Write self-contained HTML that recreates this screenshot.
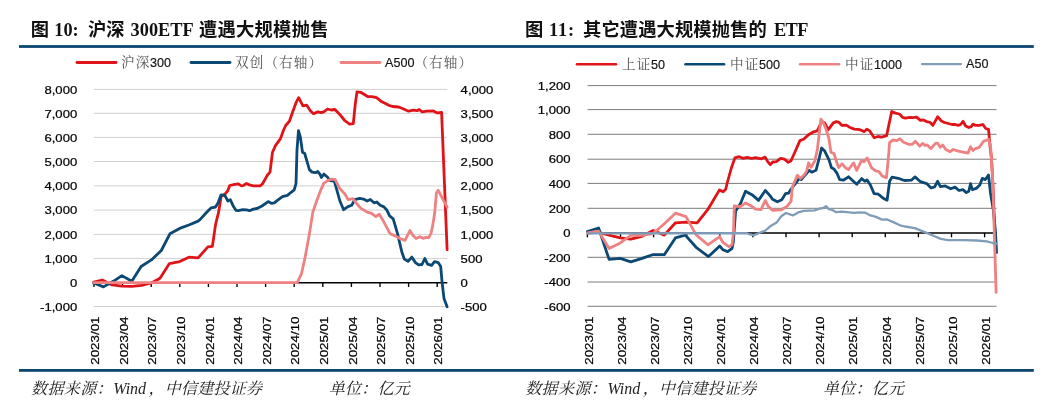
<!DOCTYPE html>
<html lang="zh-CN"><head><meta charset="utf-8"><title>ETF</title>
<style>
html,body{margin:0;padding:0;background:#fff;}
body{width:1049px;height:407px;overflow:hidden;position:relative;}
svg{position:absolute;left:0;top:0;display:block;}
.ttl{font-family:"Liberation Serif","Noto Sans CJK SC",serif;font-weight:bold;font-size:18.3px;fill:#111;}
.ax{font-family:"Liberation Sans","Noto Sans CJK SC",sans-serif;font-size:11.8px;fill:#000;stroke:#000;stroke-width:0.22px;}
.lg{font-family:"Liberation Sans","Noto Serif CJK SC",sans-serif;font-size:13.6px;letter-spacing:1.1px;fill:#555;}
.lgn{font-family:"Liberation Sans",sans-serif;font-size:12.6px;letter-spacing:0;fill:#111;stroke:#111;stroke-width:0.15px;}
.ft{font-family:"Liberation Serif","Noto Serif CJK SC",serif;font-style:italic;font-size:16px;fill:#222;}
</style></head><body>
<svg width="1049" height="407" viewBox="0 0 1049 407">
<rect width="1049" height="407" fill="#fff"/>
<text class="ttl" y="35.7"><tspan x="30.7">图</tspan><tspan x="54.3">10:</tspan><tspan x="88.0">沪深</tspan><tspan x="130.6">300ETF</tspan><tspan x="199.0" letter-spacing="0.25">遭遇大规模抛售</tspan></text>
<text class="ttl" y="35.7"><tspan x="525.0">图</tspan><tspan x="549.0" letter-spacing="0.9">11:</tspan><tspan x="583.0" letter-spacing="0.1">其它遭遇大规模抛售的</tspan><tspan x="774.0" letter-spacing="-0.6">ETF</tspan></text>
<rect x="19" y="45.1" width="1014.8" height="2.8" fill="#0c4770"/>
<rect x="19" y="369" width="1014.8" height="2.8" fill="#0c4770"/>
<line x1="93.8" x2="447.3" y1="89.4" y2="89.4" stroke="#d0d0d0" stroke-width="1"/>
<line x1="93.8" x2="447.3" y1="113.3" y2="113.3" stroke="#d0d0d0" stroke-width="1"/>
<line x1="93.8" x2="447.3" y1="137.4" y2="137.4" stroke="#d0d0d0" stroke-width="1"/>
<line x1="93.8" x2="447.3" y1="161.5" y2="161.5" stroke="#d0d0d0" stroke-width="1"/>
<line x1="93.8" x2="447.3" y1="185.9" y2="185.9" stroke="#d0d0d0" stroke-width="1"/>
<line x1="93.8" x2="447.3" y1="210.1" y2="210.1" stroke="#d0d0d0" stroke-width="1"/>
<line x1="93.8" x2="447.3" y1="234.4" y2="234.4" stroke="#d0d0d0" stroke-width="1"/>
<line x1="93.8" x2="447.3" y1="258.4" y2="258.4" stroke="#d0d0d0" stroke-width="1"/>
<line x1="93.8" x2="447.3" y1="306.5" y2="306.5" stroke="#d0d0d0" stroke-width="1"/>
<line x1="93.8" x2="447.3" y1="282.7" y2="282.7" stroke="#000" stroke-width="1.45"/>
<line x1="94.0" x2="94.0" y1="282.7" y2="287.0" stroke="#000" stroke-width="1.35"/>
<line x1="122.6" x2="122.6" y1="282.7" y2="287.0" stroke="#000" stroke-width="1.35"/>
<line x1="151.2" x2="151.2" y1="282.7" y2="287.0" stroke="#000" stroke-width="1.35"/>
<line x1="179.8" x2="179.8" y1="282.7" y2="287.0" stroke="#000" stroke-width="1.35"/>
<line x1="208.4" x2="208.4" y1="282.7" y2="287.0" stroke="#000" stroke-width="1.35"/>
<line x1="237.0" x2="237.0" y1="282.7" y2="287.0" stroke="#000" stroke-width="1.35"/>
<line x1="265.6" x2="265.6" y1="282.7" y2="287.0" stroke="#000" stroke-width="1.35"/>
<line x1="294.2" x2="294.2" y1="282.7" y2="287.0" stroke="#000" stroke-width="1.35"/>
<line x1="322.8" x2="322.8" y1="282.7" y2="287.0" stroke="#000" stroke-width="1.35"/>
<line x1="351.4" x2="351.4" y1="282.7" y2="287.0" stroke="#000" stroke-width="1.35"/>
<line x1="380.0" x2="380.0" y1="282.7" y2="287.0" stroke="#000" stroke-width="1.35"/>
<line x1="408.6" x2="408.6" y1="282.7" y2="287.0" stroke="#000" stroke-width="1.35"/>
<line x1="437.2" x2="437.2" y1="282.7" y2="287.0" stroke="#000" stroke-width="1.35"/>
<text class="ax" transform="translate(77.2,93.6) scale(1.11,1)" text-anchor="end">8,000</text>
<text class="ax" transform="translate(77.2,117.5) scale(1.11,1)" text-anchor="end">7,000</text>
<text class="ax" transform="translate(77.2,141.6) scale(1.11,1)" text-anchor="end">6,000</text>
<text class="ax" transform="translate(77.2,165.7) scale(1.11,1)" text-anchor="end">5,000</text>
<text class="ax" transform="translate(77.2,190.1) scale(1.11,1)" text-anchor="end">4,000</text>
<text class="ax" transform="translate(77.2,214.3) scale(1.11,1)" text-anchor="end">3,000</text>
<text class="ax" transform="translate(77.2,238.6) scale(1.11,1)" text-anchor="end">2,000</text>
<text class="ax" transform="translate(77.2,262.6) scale(1.11,1)" text-anchor="end">1,000</text>
<text class="ax" transform="translate(77.2,286.9) scale(1.11,1)" text-anchor="end">0</text>
<text class="ax" transform="translate(77.2,310.7) scale(1.11,1)" text-anchor="end">-1,000</text>
<text class="ax" transform="translate(460.6,93.6) scale(1.11,1)">4,000</text>
<text class="ax" transform="translate(460.6,117.5) scale(1.11,1)">3,500</text>
<text class="ax" transform="translate(460.6,141.6) scale(1.11,1)">3,000</text>
<text class="ax" transform="translate(460.6,165.7) scale(1.11,1)">2,500</text>
<text class="ax" transform="translate(460.6,190.1) scale(1.11,1)">2,000</text>
<text class="ax" transform="translate(460.6,214.3) scale(1.11,1)">1,500</text>
<text class="ax" transform="translate(460.6,238.6) scale(1.11,1)">1,000</text>
<text class="ax" transform="translate(460.6,262.6) scale(1.11,1)">500</text>
<text class="ax" transform="translate(460.6,286.9) scale(1.11,1)">0</text>
<text class="ax" transform="translate(460.6,310.7) scale(1.11,1)">-500</text>
<text class="ax" transform="translate(99.1,364.8) rotate(-90) scale(1.135,1)">2023/01</text>
<text class="ax" transform="translate(127.7,364.8) rotate(-90) scale(1.135,1)">2023/04</text>
<text class="ax" transform="translate(156.3,364.8) rotate(-90) scale(1.135,1)">2023/07</text>
<text class="ax" transform="translate(184.9,364.8) rotate(-90) scale(1.135,1)">2023/10</text>
<text class="ax" transform="translate(213.5,364.8) rotate(-90) scale(1.135,1)">2024/01</text>
<text class="ax" transform="translate(242.1,364.8) rotate(-90) scale(1.135,1)">2024/04</text>
<text class="ax" transform="translate(270.7,364.8) rotate(-90) scale(1.135,1)">2024/07</text>
<text class="ax" transform="translate(299.3,364.8) rotate(-90) scale(1.135,1)">2024/10</text>
<text class="ax" transform="translate(327.9,364.8) rotate(-90) scale(1.135,1)">2025/01</text>
<text class="ax" transform="translate(356.5,364.8) rotate(-90) scale(1.135,1)">2025/04</text>
<text class="ax" transform="translate(385.1,364.8) rotate(-90) scale(1.135,1)">2025/07</text>
<text class="ax" transform="translate(413.7,364.8) rotate(-90) scale(1.135,1)">2025/10</text>
<text class="ax" transform="translate(442.3,364.8) rotate(-90) scale(1.135,1)">2026/01</text>
<polyline points="93.7,282.0 102.3,280.0 112.1,284.9 121.9,286.2 131.8,286.4 141.6,285.4 151.4,283.0 160.0,278.3 169.4,263.6 179.7,261.6 189.0,257.2 198.1,257.9 207.9,246.9 212.4,246.4 215.5,224.9 218.6,212.2 221.1,196.7 225.4,193.6 227.9,190.5 229.7,185.5 233.5,184.7 238.4,183.9 241.5,185.9 243.4,185.5 246.5,183.4 249.6,184.9 253.3,185.9 260.1,185.9 262.6,183.7 265.7,178.1 267.5,175.0 270.0,172.1 272.5,152.3 275.6,145.4 280.5,138.6 283.6,130.0 285.7,125.5 289.4,121.3 293.1,110.7 296.3,102.1 298.7,97.7 302.9,105.8 306.6,105.1 310.3,110.7 313.5,113.7 317.7,111.9 321.3,112.7 323.8,111.9 327.5,109.0 331.2,110.0 334.9,109.5 339.8,114.4 344.7,120.5 349.6,124.2 353.3,123.7 355.2,104.6 357.0,91.8 360.7,92.3 368.0,96.7 371.7,96.7 376.6,97.7 381.5,101.6 388.9,105.3 392.6,106.5 398.7,107.0 403.6,109.0 408.6,111.2 413.5,110.2 417.2,110.7 419.1,109.5 422.1,111.9 427.0,111.2 433.5,111.0 437.2,112.9 441.6,112.5 447.1,249.6" fill="none" stroke="#e01418" stroke-width="2.8" stroke-linejoin="round" stroke-linecap="round"/>
<polyline points="93.7,283.0 103.5,286.9 113.3,281.3 121.9,275.6 131.8,281.3 141.1,266.5 151.4,259.9 161.3,250.5 169.9,233.8 179.7,228.4 189.5,224.7 198.1,221.1 200.0,219.6 206.2,212.8 211.2,207.8 215.5,207.0 218.0,202.9 221.1,194.8 224.8,195.4 227.9,201.0 230.4,199.8 233.5,206.6 235.9,210.3 238.4,210.7 242.8,209.7 246.5,209.9 249.6,210.7 253.3,209.1 257.0,208.5 262.0,206.0 268.2,201.6 271.3,203.3 274.3,202.9 277.4,200.4 282.4,196.7 287.4,195.4 291.1,192.3 294.2,189.9 296.0,183.7 297.0,149.8 298.5,130.6 300.4,137.4 302.5,152.3 304.7,153.5 307.2,162.2 309.4,169.6 312.1,172.1 315.2,172.7 317.7,171.5 320.2,174.6 321.4,177.5 323.9,174.1 327.6,177.2 330.0,180.5 334.3,181.2 336.8,189.8 339.9,201.0 343.6,209.7 348.0,206.6 351.7,205.3 354.8,199.7 359.7,198.3 363.5,199.1 367.2,201.0 370.3,199.5 374.0,202.8 376.8,202.0 380.2,205.3 383.9,206.9 387.0,210.3 389.5,215.8 393.2,218.9 397.5,233.6 401.9,252.2 404.3,259.0 408.1,261.4 411.8,257.1 415.5,262.6 418.6,264.8 422.0,264.5 424.8,258.5 427.6,264.1 431.6,265.3 434.5,261.7 438.2,262.6 440.7,266.5 442.1,282.3 444.0,298.4 447.1,306.8" fill="none" stroke="#0c4874" stroke-width="2.8" stroke-linejoin="round" stroke-linecap="round"/>
<polyline points="93.7,282.6 297.3,282.6 301.6,273.3 305.0,257.8 309.3,234.6 311.6,220.0 312.8,212.2 317.1,199.8 320.8,189.9 323.9,183.1 328.9,180.0 331.5,179.2 335.0,179.3 339.9,188.6 345.5,194.8 348.0,199.7 352.9,198.7 356.6,203.5 361.0,208.4 367.2,212.1 371.5,213.4 375.8,216.5 379.3,214.3 382.7,219.9 390.1,233.6 395.7,236.1 400.0,238.5 405.0,240.4 409.9,230.5 413.0,235.4 416.1,238.5 419.8,236.7 422.9,238.3 426.0,237.3 428.5,237.7 431.0,233.6 432.8,224.9 434.7,213.0 436.4,193.0 438.2,190.3 447.1,207.2" fill="none" stroke="#ee8181" stroke-width="2.8" stroke-linejoin="round" stroke-linecap="round"/>
<line x1="77" x2="116" y1="62.5" y2="62.5" stroke="#e01418" stroke-width="2.9" stroke-linecap="round"/>
<text class="lg" x="121" y="67.3">沪深<tspan class="lgn" dx="-0.4">300</tspan></text>
<line x1="191" x2="230" y1="62.5" y2="62.5" stroke="#0c4874" stroke-width="2.9" stroke-linecap="round"/>
<text class="lg" x="235" y="67.3">双创（右轴）</text>
<line x1="341" x2="380" y1="62.5" y2="62.5" stroke="#ee8181" stroke-width="2.9" stroke-linecap="round"/>
<text class="lg" x="385" y="67.3"><tspan class="lgn">A500</tspan>（右轴）</text>
<line x1="587.6" x2="996.5" y1="85.6" y2="85.6" stroke="#7c7c7c" stroke-width="1"/>
<line x1="587.6" x2="996.5" y1="109.6" y2="109.6" stroke="#7c7c7c" stroke-width="1"/>
<line x1="587.6" x2="996.5" y1="134.3" y2="134.3" stroke="#7c7c7c" stroke-width="1"/>
<line x1="587.6" x2="996.5" y1="159.2" y2="159.2" stroke="#7c7c7c" stroke-width="1"/>
<line x1="587.6" x2="996.5" y1="183.4" y2="183.4" stroke="#7c7c7c" stroke-width="1"/>
<line x1="587.6" x2="996.5" y1="208.3" y2="208.3" stroke="#7c7c7c" stroke-width="1"/>
<line x1="587.6" x2="996.5" y1="257.3" y2="257.3" stroke="#7c7c7c" stroke-width="1"/>
<line x1="587.6" x2="996.5" y1="282.0" y2="282.0" stroke="#7c7c7c" stroke-width="1"/>
<line x1="587.6" x2="996.5" y1="306.3" y2="306.3" stroke="#7c7c7c" stroke-width="1"/>
<line x1="587.6" x2="996.5" y1="233.0" y2="233.0" stroke="#000" stroke-width="1.45"/>
<line x1="587.4" x2="587.4" y1="233.0" y2="237.3" stroke="#000" stroke-width="1.35"/>
<line x1="620.5" x2="620.5" y1="233.0" y2="237.3" stroke="#000" stroke-width="1.35"/>
<line x1="653.6" x2="653.6" y1="233.0" y2="237.3" stroke="#000" stroke-width="1.35"/>
<line x1="686.7" x2="686.7" y1="233.0" y2="237.3" stroke="#000" stroke-width="1.35"/>
<line x1="719.8" x2="719.8" y1="233.0" y2="237.3" stroke="#000" stroke-width="1.35"/>
<line x1="752.9" x2="752.9" y1="233.0" y2="237.3" stroke="#000" stroke-width="1.35"/>
<line x1="786.0" x2="786.0" y1="233.0" y2="237.3" stroke="#000" stroke-width="1.35"/>
<line x1="819.1" x2="819.1" y1="233.0" y2="237.3" stroke="#000" stroke-width="1.35"/>
<line x1="852.2" x2="852.2" y1="233.0" y2="237.3" stroke="#000" stroke-width="1.35"/>
<line x1="885.3" x2="885.3" y1="233.0" y2="237.3" stroke="#000" stroke-width="1.35"/>
<line x1="918.4" x2="918.4" y1="233.0" y2="237.3" stroke="#000" stroke-width="1.35"/>
<line x1="951.5" x2="951.5" y1="233.0" y2="237.3" stroke="#000" stroke-width="1.35"/>
<line x1="984.6" x2="984.6" y1="233.0" y2="237.3" stroke="#000" stroke-width="1.35"/>
<text class="ax" transform="translate(570.5,89.8) scale(1.11,1)" text-anchor="end">1,200</text>
<text class="ax" transform="translate(570.5,113.8) scale(1.11,1)" text-anchor="end">1,000</text>
<text class="ax" transform="translate(570.5,138.5) scale(1.11,1)" text-anchor="end">800</text>
<text class="ax" transform="translate(570.5,163.4) scale(1.11,1)" text-anchor="end">600</text>
<text class="ax" transform="translate(570.5,187.6) scale(1.11,1)" text-anchor="end">400</text>
<text class="ax" transform="translate(570.5,212.5) scale(1.11,1)" text-anchor="end">200</text>
<text class="ax" transform="translate(570.5,237.2) scale(1.11,1)" text-anchor="end">0</text>
<text class="ax" transform="translate(570.5,261.5) scale(1.11,1)" text-anchor="end">-200</text>
<text class="ax" transform="translate(570.5,286.2) scale(1.11,1)" text-anchor="end">-400</text>
<text class="ax" transform="translate(570.5,310.5) scale(1.11,1)" text-anchor="end">-600</text>
<text class="ax" transform="translate(592.6,364.8) rotate(-90) scale(1.135,1)">2023/01</text>
<text class="ax" transform="translate(625.7,364.8) rotate(-90) scale(1.135,1)">2023/04</text>
<text class="ax" transform="translate(658.8,364.8) rotate(-90) scale(1.135,1)">2023/07</text>
<text class="ax" transform="translate(691.9,364.8) rotate(-90) scale(1.135,1)">2023/10</text>
<text class="ax" transform="translate(725.0,364.8) rotate(-90) scale(1.135,1)">2024/01</text>
<text class="ax" transform="translate(758.1,364.8) rotate(-90) scale(1.135,1)">2024/04</text>
<text class="ax" transform="translate(791.2,364.8) rotate(-90) scale(1.135,1)">2024/07</text>
<text class="ax" transform="translate(824.3,364.8) rotate(-90) scale(1.135,1)">2024/10</text>
<text class="ax" transform="translate(857.4,364.8) rotate(-90) scale(1.135,1)">2025/01</text>
<text class="ax" transform="translate(890.5,364.8) rotate(-90) scale(1.135,1)">2025/04</text>
<text class="ax" transform="translate(923.6,364.8) rotate(-90) scale(1.135,1)">2025/07</text>
<text class="ax" transform="translate(956.7,364.8) rotate(-90) scale(1.135,1)">2025/10</text>
<text class="ax" transform="translate(989.8,364.8) rotate(-90) scale(1.135,1)">2026/01</text>
<polyline points="587.4,233.0 598.6,232.3 609.1,235.1 620.3,237.9 630.8,239.2 642.0,236.3 653.1,230.5 664.3,235.1 675.5,222.8 686.0,222.1 697.2,222.8 707.7,209.7 719.5,189.9 723.2,191.8 725.7,189.3 727.2,183.0 731.2,168.5 734.9,157.9 739.2,156.7 742.9,158.3 747.3,157.3 751.6,158.5 755.3,157.6 761.5,158.8 764.9,157.1 767.7,161.6 770.2,164.7 772.7,162.0 776.4,161.6 780.7,158.3 784.4,159.2 788.2,162.3 790.9,161.0 795.6,150.5 799.9,140.6 803.6,139.3 808.5,134.7 812.8,132.2 817.2,130.9 819.7,126.0 821.5,121.6 824.6,122.9 828.3,129.7 833.3,122.9 836.4,121.6 838.9,122.3 842.0,125.4 846.3,125.1 849.4,127.2 854.3,129.1 859.9,129.7 864.3,131.6 866.7,129.1 869.8,130.9 874.2,137.8 877.9,136.5 881.6,137.1 886.6,135.6 889.7,121.0 891.7,111.5 895.4,113.1 899.4,114.0 902.5,117.3 905.4,118.1 909.8,117.3 912.9,117.7 916.6,117.1 920.4,120.4 922.8,119.8 926.6,121.6 930.3,122.5 932.8,125.4 937.7,116.7 941.4,121.0 944.5,122.5 952.0,124.5 955.1,124.5 958.2,125.4 960.6,124.5 963.1,121.3 965.6,126.0 968.7,127.5 971.2,126.6 973.0,124.1 975.5,125.4 979.2,125.4 982.9,124.5 985.7,128.5 988.6,129.4 989.5,141.0 991.6,159.8 992.9,184.9 995.5,250.0" fill="none" stroke="#e01418" stroke-width="2.8" stroke-linejoin="round" stroke-linecap="round"/>
<polyline points="587.4,231.7 598.6,228.0 609.1,259.4 620.3,258.4 630.8,261.8 642.0,258.4 652.5,254.7 664.3,254.7 675.4,237.9 685.3,235.1 696.1,247.3 708.5,256.6 719.7,246.0 722.8,249.7 727.7,251.6 732.0,248.5 733.3,242.3 735.6,211.0 740.5,203.5 745.5,191.2 752.3,194.9 758.5,200.4 765.3,190.5 770.0,195.6 772.5,199.3 777.4,201.8 781.8,199.7 785.5,193.7 788.6,193.1 790.4,190.0 795.6,183.3 799.3,178.4 801.2,179.6 805.5,174.7 809.2,170.3 811.7,172.2 816.0,170.3 819.1,158.5 821.6,148.0 824.7,151.1 829.0,159.8 831.5,167.8 834.0,169.1 837.1,173.4 839.6,179.6 843.7,180.0 848.5,176.8 852.3,180.3 856.7,184.2 861.7,178.6 864.8,181.3 866.9,179.9 870.4,185.0 874.1,193.6 878.4,194.2 882.8,197.9 887.1,200.2 889.6,181.2 892.0,177.2 899.5,178.7 904.4,180.5 911.3,180.2 915.0,176.9 920.5,181.7 926.7,183.6 931.1,187.9 934.5,187.0 937.6,181.3 940.4,186.6 945.3,185.9 950.7,188.8 955.0,187.1 959.0,190.5 962.9,189.6 966.3,192.6 968.8,191.2 970.5,183.7 972.4,189.7 976.7,188.1 979.8,185.0 982.3,178.4 985.4,179.6 988.5,174.9 990.4,192.4 993.5,211.0 995.3,229.9 996.6,252.5" fill="none" stroke="#0c4874" stroke-width="2.8" stroke-linejoin="round" stroke-linecap="round"/>
<polyline points="587.4,233.0 598.6,231.1 609.1,248.5 620.3,242.9 630.8,235.4 642.0,235.4 653.1,233.6 664.3,223.7 675.5,213.2 686.0,216.6 696.1,234.9 707.9,244.8 719.7,236.7 722.8,242.3 728.9,246.6 732.0,244.8 733.5,232.4 734.3,206.0 740.5,206.6 745.5,202.9 750.5,205.4 755.4,209.1 761.0,209.7 765.3,200.4 768.4,206.6 772.8,210.4 781.3,209.8 787.3,206.1 791.1,201.2 792.4,187.0 797.4,175.3 800.5,178.4 804.3,174.7 806.7,170.9 808.6,162.9 811.1,167.2 814.8,161.0 817.3,149.9 819.4,132.2 820.9,119.2 822.8,121.6 825.8,128.5 828.9,138.4 830.9,152.3 834.0,153.6 837.1,163.5 838.6,167.6 841.9,163.8 845.6,167.9 848.6,169.5 853.6,162.9 856.7,170.4 861.6,160.4 864.1,161.7 867.2,158.0 871.6,167.9 875.9,171.0 879.0,171.6 882.1,175.9 886.4,177.8 888.3,158.6 889.6,142.5 893.1,140.0 896.8,140.6 899.9,138.8 903.6,142.3 908.6,144.3 912.3,144.3 915.4,141.3 919.7,146.2 922.5,143.5 925.3,145.5 927.2,144.9 930.9,148.5 935.8,143.1 937.7,143.3 940.2,147.3 942.7,145.0 945.8,149.5 950.1,151.7 953.2,149.5 958.2,151.1 964.3,152.3 968.1,153.0 970.5,146.8 973.0,150.5 975.5,148.6 979.2,147.4 983.6,141.2 986.0,140.6 988.5,139.2 990.4,144.9 991.6,159.8 992.9,184.9 996.1,292.4" fill="none" stroke="#ee8181" stroke-width="2.8" stroke-linejoin="round" stroke-linecap="round"/>
<polyline points="587.4,233.3 746.9,233.2 749.4,234.3 754.3,235.1 759.3,233.0 765.5,230.5 770.2,226.3 776.7,222.4 781.3,216.2 786.0,213.0 792.9,215.4 798.5,212.3 803.5,210.8 814.6,210.4 819.6,208.6 823.3,208.0 826.0,206.1 828.9,209.2 832.0,209.8 835.7,212.1 841.9,211.7 849.3,212.3 854.3,212.9 859.2,212.3 865.4,212.7 870.4,215.4 875.3,216.6 882.1,219.6 887.1,219.5 893.9,222.4 900.0,225.3 904.9,226.5 914.8,228.1 927.2,233.1 934.6,236.2 940.8,238.9 948.2,240.1 964.3,240.1 976.7,240.5 986.7,241.4 992.9,243.0 996.6,243.6" fill="none" stroke="#7f9db8" stroke-width="2.3" stroke-linejoin="round" stroke-linecap="round"/>
<line x1="577" x2="616" y1="64.3" y2="64.3" stroke="#e01418" stroke-width="2.5" stroke-linecap="round"/>
<text class="lg" x="622" y="69">上证<tspan class="lgn" dx="-0.4">50</tspan></text>
<line x1="685.5" x2="724" y1="64.3" y2="64.3" stroke="#0c4874" stroke-width="2.5" stroke-linecap="round"/>
<text class="lg" x="730" y="69">中证<tspan class="lgn" dx="-0.4">500</tspan></text>
<line x1="800" x2="839" y1="64.3" y2="64.3" stroke="#ee8181" stroke-width="2.5" stroke-linecap="round"/>
<text class="lg" x="845" y="69">中证<tspan class="lgn" dx="-0.4">1000</tspan></text>
<line x1="922" x2="961" y1="64.1" y2="64.1" stroke="#7f9db8" stroke-width="2.3" stroke-linecap="round"/>
<text class="lgn" x="966" y="68">A50</text>
<text class="ft" y="394.4"><tspan x="31.0" letter-spacing="0.4">数据来源：</tspan><tspan x="113.2">Wind</tspan><tspan x="148.5">，</tspan><tspan x="164.8" letter-spacing="0.25">中信建投证券</tspan><tspan x="328.8" letter-spacing="0.25">单位：亿元</tspan></text>
<text class="ft" y="394.4"><tspan x="525.2" letter-spacing="0.4">数据来源：</tspan><tspan x="607.4">Wind</tspan><tspan x="642.7">，</tspan><tspan x="659.0" letter-spacing="0.25">中信建投证券</tspan><tspan x="823.0" letter-spacing="0.25">单位：亿元</tspan></text>
</svg></body></html>
